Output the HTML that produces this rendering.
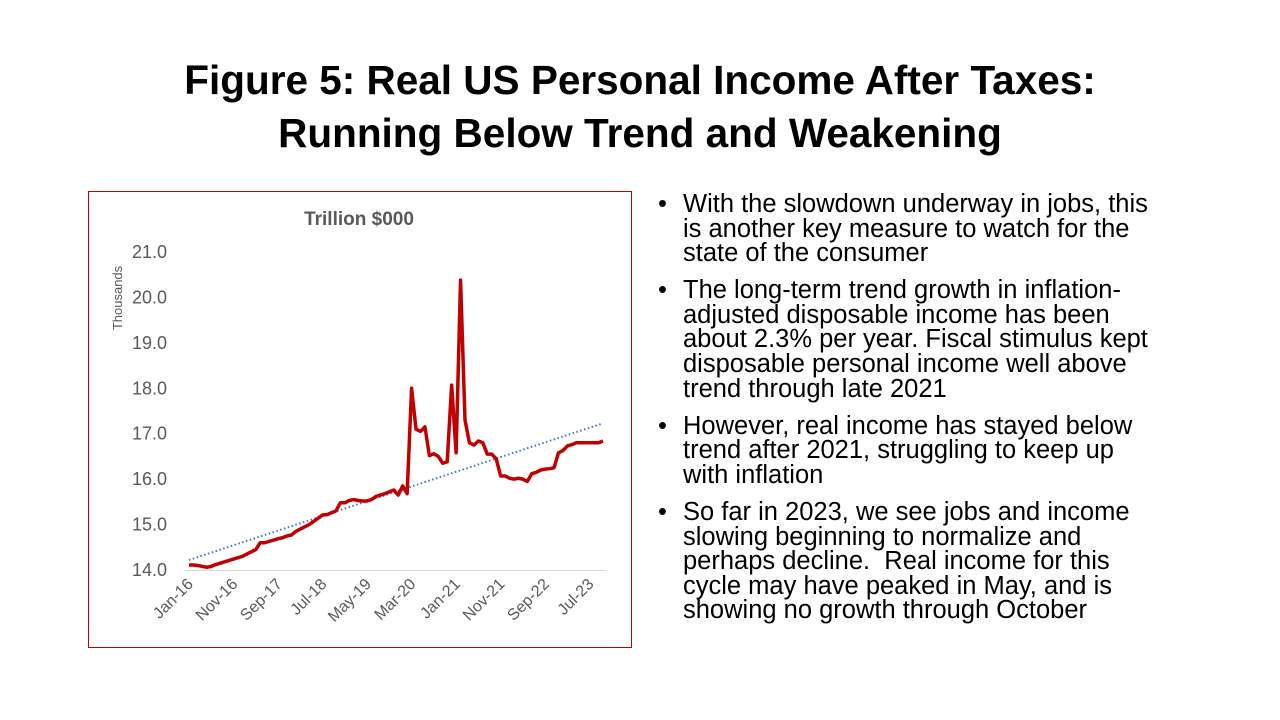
<!DOCTYPE html>
<html><head><meta charset="utf-8"><style>
body{margin:0;width:1280px;height:720px;background:#fff;font-family:"Liberation Sans",sans-serif;overflow:hidden;position:relative}
#title{position:absolute;left:0;width:1280px;top:54px;text-align:center;font-weight:bold;font-size:40.5px;line-height:53px;color:#000}
#bullets{position:absolute;left:658px;top:192px;width:600px;font-size:25.5px;line-height:24.6px;color:#000;margin:0;padding:0;list-style:none;white-space:nowrap}
#bullets li{position:relative;padding-left:25px;margin-bottom:12.5px}
#bullets li:before{content:"•";position:absolute;left:0}
</style></head><body>
<div id="title">Figure 5: Real US Personal Income After Taxes:<br>Running Below Trend and Weakening</div>
<svg id="chart" width="1280" height="720" style="position:absolute;left:0;top:0">
<rect x="88.5" y="191.5" width="543" height="456" fill="#fff" stroke="#c00000" stroke-width="1"/>
<text x="359" y="225" text-anchor="middle" font-size="19" font-weight="bold" fill="#595959">Trillion $000</text>
<text transform="translate(122,298) rotate(-90)" text-anchor="middle" font-size="13" fill="#595959">Thousands</text>
<g id="g"></g>
</svg>
<ul id="bullets">
<li>With the slowdown underway in jobs, this<br>is another key measure to watch for the<br>state of the consumer</li>
<li>The long-term trend growth in inflation-<br>adjusted disposable income has been<br>about 2.3% per year. Fiscal stimulus kept<br>disposable personal income well above<br>trend through late 2021</li>
<li>However, real income has stayed below<br>trend after 2021, struggling to keep up<br>with inflation</li>
<li>So far in 2023, we see jobs and income<br>slowing beginning to normalize and<br>perhaps decline.&nbsp; Real income for this<br>cycle may have peaked in May, and is<br>showing no growth through October</li>
</ul>
<script>
const yTicks=[14,15,16,17,18,19,20,21];
const xLabels=["Jan-16","Nov-16","Sep-17","Jul-18","May-19","Mar-20","Jan-21","Nov-21","Sep-22","Jul-23"];
const income=[14.11,14.11,14.10,14.08,14.06,14.08,14.12,14.15,14.18,14.21,
14.24,14.27,14.30,14.35,14.40,14.45,14.60,14.60,14.63,14.66,
14.69,14.71,14.75,14.77,14.85,14.90,14.95,15.00,15.07,15.14,
15.21,15.22,15.26,15.30,15.48,15.48,15.53,15.55,15.53,15.52,
15.52,15.55,15.62,15.65,15.68,15.72,15.76,15.65,15.85,15.68,
18.00,17.10,17.05,17.15,16.52,16.56,16.50,16.35,16.38,18.07,
16.58,20.38,17.30,16.80,16.75,16.84,16.80,16.55,16.55,16.45,
16.07,16.07,16.02,16.00,16.02,16.00,15.95,16.12,16.15,16.20,
16.22,16.23,16.25,16.58,16.63,16.73,16.76,16.80,16.80,16.80,
16.80,16.80,16.80,16.84];
const trendStart=[14.22];
const trendEnd=[17.23];
const NS="http://www.w3.org/2000/svg";
const g=document.getElementById('g');
const x0=189,dx=(603-189)/93;
const X=i=>x0+i*dx;
const Y=v=>570-(v-14)*45.43;
function mk(t,a){const e=document.createElementNS(NS,t);for(const k in a)e.setAttribute(k,a[k]);g.appendChild(e);return e;}
const ax=mk('line',{x1:185,x2:606,y1:570.5,y2:570.5,stroke:'#d9d9d9','stroke-width':1});


yTicks.forEach(v=>{const t=mk('text',{x:167,y:Y(v)+6,'text-anchor':'end','font-size':18,fill:'#595959'});t.textContent=v.toFixed(1);

});
xLabels.forEach((l,k)=>{const x=X(k*10)+5,y=585;const t=mk('text',{transform:`translate(${x},${y}) rotate(-45)`,'text-anchor':'end','font-size':16,fill:'#595959'});t.textContent=l;

});
const tr=mk('line',{x1:X(0),y1:Y(trendStart[0]),x2:X(income.length-1),y2:Y(trendEnd[0]),stroke:'#4472c4','stroke-width':2,'stroke-dasharray':'1.5 2.5'});


const p=mk('polyline',{points:income.map((v,i)=>X(i)+','+Y(v)).join(' '),fill:'none',stroke:'#c00000','stroke-width':3.5,'stroke-linejoin':'round'});


</script>
</body></html>
